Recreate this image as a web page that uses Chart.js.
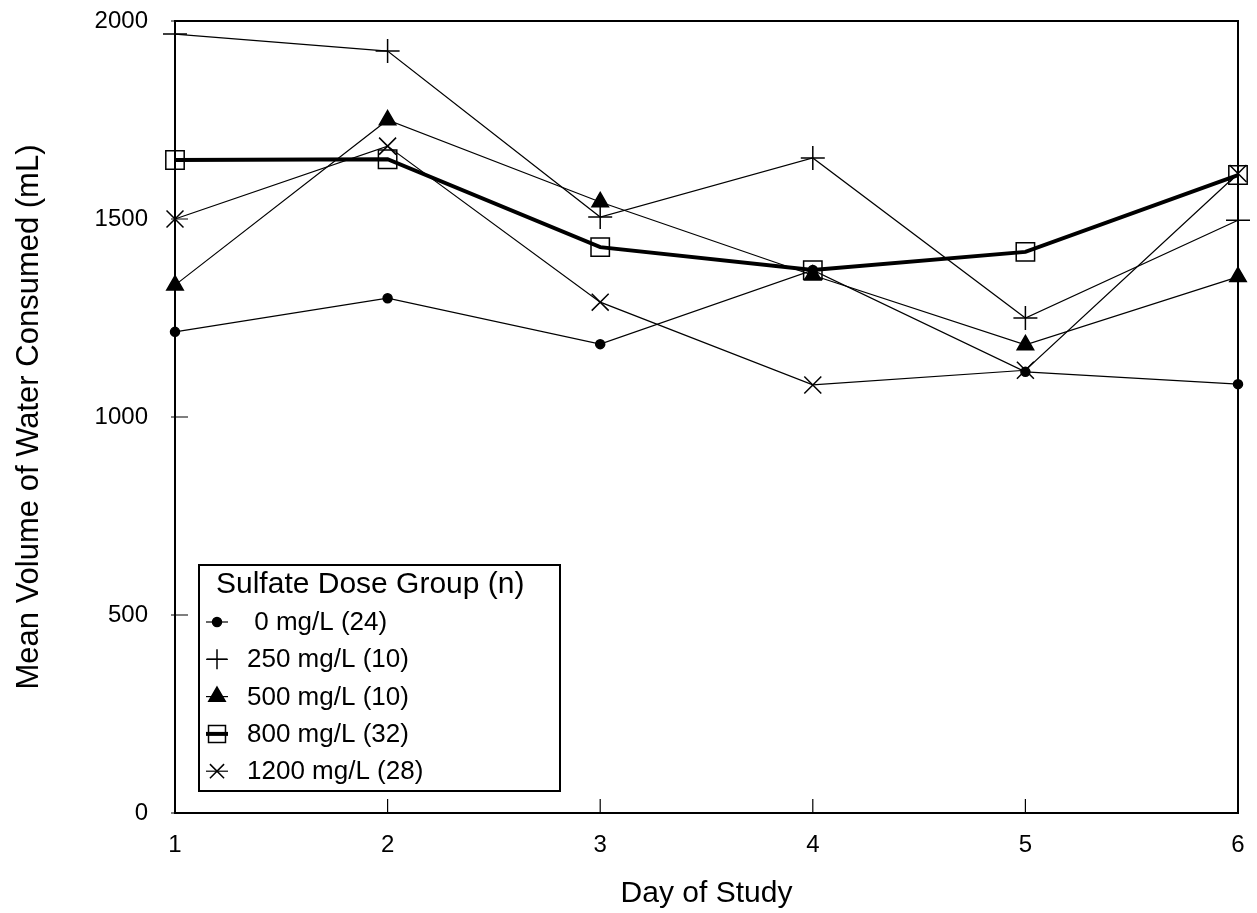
<!DOCTYPE html>
<html lang="en">
<head>
    <meta charset="UTF-8">
    <title>Water Consumed by Sulfate Dose Group</title>
    <script src="https://cdn.jsdelivr.net/npm/chart.js"></script>
    <style>
        body {
            margin: 0;
            background: #fff;
        }
        #wrap {
            width: 1257px;
            height: 913px;
        }
    </style>
</head>
<body>
<div id="wrap">
    <canvas id="waterChart" width="1257" height="913"></canvas>
</div>
<script>
    // Day of study (x axis)
    const days = [1, 2, 3, 4, 5, 6];

    // Mean volume of water consumed (mL)
    const dose0 = [1215, 1300, 1184, 1371, 1114, 1083];
    const dose250 = [1967, 1924, 1505, 1654, 1250, 1497];
    const dose500 = [1333, 1750, 1543, 1358, 1182, 1354];
    const dose800 = [1649, 1651, 1429, 1371, 1417, 1611];
    const dose1200 = [1500, 1684, 1290, 1081, 1118, 1615];

    const groupLabels = [' 0 mg/L (24)', '250 mg/L (10)', '500 mg/L (10)', '800 mg/L (32)', '1200 mg/L (28)'];
    const legendTitle = 'Sulfate Dose Group (n)';
    const yTicks = [0, 500, 1000, 1500, 2000];

    const FONT = '"Liberation Sans", Arial, sans-serif';

    function toPoints(values) {
        return days.map((d, i) => ({ x: d, y: values[i] }));
    }

    function makeSet(label, values, style, radius, lineWidth, filled) {
        return {
            label: label,
            data: toPoints(values),
            borderColor: '#000',
            borderWidth: lineWidth,
            backgroundColor: filled ? '#000' : 'rgba(0,0,0,0)',
            pointStyle: style,
            pointRadius: radius,
            pointBorderWidth: 1.5,
            pointBorderColor: '#000',
            pointBackgroundColor: filled ? '#000' : 'rgba(0,0,0,0)',
            tension: 0,
            fill: false,
            clip: false
        };
    }

    const datasets = [
        makeSet(groupLabels[0], dose0, 'circle', 4.5, 1.2, true),
        makeSet(groupLabels[1], dose250, 'cross', 12, 1.2, false),
        makeSet(groupLabels[2], dose500, 'triangle', 9.5, 1.2, true),
        makeSet(groupLabels[3], dose800, 'rect', 13, 4, false),
        makeSet(groupLabels[4], dose1200, 'crossRot', 12, 1.2, false)
    ];

    // frame round the plot + inward tick marks like the original
    const framePlugin = {
        id: 'frame',
        afterDatasetsDraw(chart) {
            const ctx = chart.ctx;
            const area = chart.chartArea;
            const xs = chart.scales.x;
            const ys = chart.scales.y;
            ctx.save();
            ctx.strokeStyle = '#000';
            ctx.lineWidth = 2;
            ctx.strokeRect(area.left, area.top, area.right - area.left, area.bottom - area.top);
            ctx.lineWidth = 1.2;
            ctx.beginPath();
            yTicks.forEach(v => {
                const py = ys.getPixelForValue(v);
                ctx.moveTo(area.left - 4, py);
                ctx.lineTo(area.left + 13, py);
            });
            days.slice(1, -1).forEach(d => {
                const px = xs.getPixelForValue(d);
                ctx.moveTo(px, area.bottom);
                ctx.lineTo(px, area.bottom - 14);
            });
            ctx.stroke();
            ctx.restore();
        }
    };

    // boxed legend in the lower left of the plot
    const legendPlugin = {
        id: 'boxLegend',
        afterDraw(chart) {
            const ctx = chart.ctx;
            const box = { left: 199, top: 565, right: 560, bottom: 791 };
            ctx.save();
            ctx.fillStyle = '#fff';
            ctx.fillRect(box.left, box.top, box.right - box.left, box.bottom - box.top);
            ctx.strokeStyle = '#000';
            ctx.lineWidth = 2;
            ctx.strokeRect(box.left, box.top, box.right - box.left, box.bottom - box.top);

            ctx.fillStyle = '#000';
            ctx.textBaseline = 'middle';
            ctx.textAlign = 'left';
            ctx.font = '30px ' + FONT;
            ctx.fillText(legendTitle, 216, 585);

            ctx.font = '26px ' + FONT;
            chart.data.datasets.forEach((ds, i) => {
                const y = 622 + i * 37.3;
                const mx = 217;
                ctx.lineWidth = ds.borderWidth;
                ctx.strokeStyle = '#000';
                ctx.beginPath();
                ctx.moveTo(mx - 11, y);
                ctx.lineTo(mx + 11, y);
                ctx.stroke();
                const opts = {
                    pointStyle: ds.pointStyle,
                    radius: ds.pointStyle === 'rect' ? 12 : Math.min(ds.pointRadius, 10),
                    rotation: 0,
                    borderWidth: ds.pointBorderWidth
                };
                ctx.lineWidth = ds.pointBorderWidth;
                ctx.fillStyle = ds.pointBackgroundColor;
                if (Chart.helpers && Chart.helpers.drawPoint) {
                    Chart.helpers.drawPoint(ctx, opts, mx, y);
                }
                ctx.fillStyle = '#000';
                ctx.fillText(ds.label, 247, y + 1);
            });
            ctx.restore();
        }
    };

    new Chart(document.getElementById('waterChart').getContext('2d'), {
        type: 'line',
        data: { datasets: datasets },
        options: {
            responsive: false,
            animation: false,
            layout: {
                padding: { top: 21, right: 19, left: 0, bottom: 0 }
            },
            plugins: {
                legend: { display: false },
                tooltip: { enabled: false }
            },
            scales: {
                x: {
                    type: 'linear',
                    min: 1,
                    max: 6,
                    grid: { display: false, drawTicks: false },
                    border: { display: false },
                    ticks: {
                        stepSize: 1,
                        color: '#000',
                        padding: 18,
                        font: { family: FONT, size: 24 },
                        callback: v => String(v)
                    },
                    title: {
                        display: true,
                        text: 'Day of Study',
                        color: '#000',
                        padding: { top: 0, bottom: 1 },
                        font: { family: FONT, size: 30 }
                    },
                    afterFit(scale) {
                        scale.height = 100;
                        scale.paddingLeft = 0;
                        scale.paddingRight = 0;
                    }
                },
                y: {
                    min: 0,
                    max: 2000,
                    grid: { display: false, drawTicks: false },
                    border: { display: false },
                    ticks: {
                        stepSize: 500,
                        color: '#000',
                        padding: 27,
                        font: { family: FONT, size: 24 },
                        callback: v => String(v)
                    },
                    title: {
                        display: true,
                        text: 'Mean Volume of Water Consumed (mL)',
                        color: '#000',
                        padding: { top: 11, bottom: 0 },
                        font: { family: FONT, size: 31 }
                    },
                    afterFit(scale) {
                        scale.width = 175;
                        scale.paddingTop = 0;
                        scale.paddingBottom = 0;
                    }
                }
            }
        },
        plugins: [framePlugin, legendPlugin]
    });
</script>
</body>
</html>
